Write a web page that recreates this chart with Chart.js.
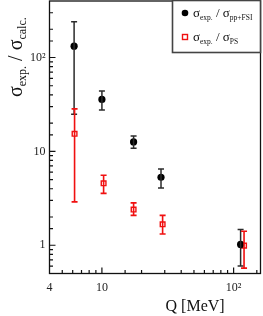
<!DOCTYPE html>
<html>
<head>
<meta charset="utf-8">
<script src="https://cdn.jsdelivr.net/npm/chart.js@4/dist/chart.umd.min.js"></script>
<style>
  html, body { margin: 0; padding: 0; background: #fff; }
  #wrap { width: 263px; height: 316px; }
</style>
</head>
<body>
<div id="wrap"><canvas id="chart" width="263" height="316"></canvas></div>
<script>
// sigma_exp / sigma_pp+FSI
const qFsi = [6.15, 10.0, 17.4, 28.1, 113];
const ratioFsi = [132, 35.8, 12.6, 5.3, 1.02];
const fsiHigh = [241, 43.9, 14.6, 6.5, 1.47];
const fsiLow = [24.8, 27.6, 10.8, 4.07, 0.6];

// sigma_exp / sigma_PS
const qPs = [6.2, 10.3, 17.4, 28.9, 120];
const ratioPs = [15.4, 4.57, 2.4, 1.67, 0.99];
const psHigh = [28.4, 5.56, 2.83, 2.08, 1.41];
const psLow = [2.9, 3.57, 2.08, 1.32, 0.57];

const xMajor = [4, 10, 100];
const yMajor = [1, 10, 100];

const SERIF = "'Liberation Serif', 'DejaVu Serif', serif";

function toPoints(xs, ys) {
  return xs.map((x, i) => ({ x: x, y: ys[i] }));
}

function powLabel(v) {
  if (v === 100) return '10\u00b2';
  return String(v);
}

// draws a sigma with subscript, returns new x
function sigmaText(ctx, x, y, sub, big, small) {
  ctx.font = big + 'px ' + SERIF;
  ctx.fillText('\u03c3', x, y);
  x += ctx.measureText('\u03c3').width;
  ctx.font = small + 'px ' + SERIF;
  ctx.fillText(sub, x, y + big * 0.22);
  return x + ctx.measureText(sub).width;
}

const errorBars = {
  id: 'errorBars',
  afterDatasetsDraw(chart) {
    const ctx = chart.ctx;
    const xs = chart.scales.x, ys = chart.scales.y;
    const sets = [
      { q: qFsi, hi: fsiHigh, lo: fsiLow, color: '#2b2b2b', w: 1.5 },
      { q: qPs, hi: psHigh, lo: psLow, color: '#f01010', w: 1.6 }
    ];
    ctx.save();
    sets.forEach(s => {
      ctx.strokeStyle = s.color;
      ctx.lineWidth = s.w;
      s.q.forEach((q, i) => {
        const px = xs.getPixelForValue(q);
        const top = ys.getPixelForValue(s.hi[i]);
        const bot = Math.min(ys.getPixelForValue(s.lo[i]), chart.chartArea.bottom);
        ctx.beginPath();
        ctx.moveTo(px, top); ctx.lineTo(px, bot);
        ctx.moveTo(px - 3, top); ctx.lineTo(px + 3, top);
        ctx.moveTo(px - 3, bot); ctx.lineTo(px + 3, bot);
        ctx.stroke();
      });
    });
    ctx.restore();
  }
};

const frame = {
  id: 'frame',
  afterDraw(chart) {
    const ctx = chart.ctx;
    const a = chart.chartArea;
    const xs = chart.scales.x, ys = chart.scales.y;
    ctx.save();
    ctx.strokeStyle = '#111';
    ctx.lineWidth = 1.3;
    ctx.strokeRect(a.left, a.top, a.right - a.left, a.bottom - a.top);

    // inward ticks
    ctx.lineWidth = 1.2;
    ctx.beginPath();
    xs.ticks.forEach(t => {
      if (t.value <= xs.min || t.value >= xs.max) return;
      const px = xs.getPixelForValue(t.value);
      const len = xMajor.includes(t.value) ? 6 : 3.5;
      ctx.moveTo(px, a.bottom); ctx.lineTo(px, a.bottom - len);
    });
    ys.ticks.forEach(t => {
      if (t.value <= ys.min || t.value >= ys.max) return;
      const py = ys.getPixelForValue(t.value);
      const len = yMajor.includes(t.value) ? 6 : 3.5;
      ctx.moveTo(a.left, py); ctx.lineTo(a.left + len, py);
    });
    ctx.stroke();

    // axis titles
    ctx.fillStyle = '#111';
    ctx.textBaseline = 'alphabetic';
    ctx.font = '16px ' + SERIF;
    ctx.textAlign = 'center';
    ctx.fillText('Q [MeV]', a.left + (a.right - a.left) * 0.69, 311);

    ctx.save();
    ctx.translate(22, 97);
    ctx.rotate(-Math.PI / 2);
    ctx.textAlign = 'left';
    let x = sigmaText(ctx, 0, 0, 'exp.', 20, 12);
    ctx.font = '20px ' + SERIF;
    ctx.fillText(' / ', x, 0);
    x += ctx.measureText(' / ').width;
    sigmaText(ctx, x, 0, 'calc.', 20, 12);
    ctx.restore();

    // legend
    const lx = 172.5, ly = 0.5, lw = a.right - 172.5, lh = 52;
    ctx.fillStyle = '#fff';
    ctx.fillRect(lx, ly, lw, lh);
    ctx.strokeStyle = '#444';
    ctx.lineWidth = 1.6;
    ctx.strokeRect(lx, ly, lw, lh);

    ctx.fillStyle = '#000';
    ctx.beginPath();
    ctx.arc(185, 13, 3.3, 0, Math.PI * 2);
    ctx.fill();
    ctx.strokeStyle = '#f01010';
    ctx.lineWidth = 1.4;
    ctx.strokeRect(182.5, 34.5, 5, 5);

    ctx.fillStyle = '#111';
    ctx.textAlign = 'left';
    let tx = sigmaText(ctx, 193, 17, 'exp.', 13, 7.5);
    ctx.font = '13px ' + SERIF;
    ctx.fillText(' / ', tx, 17);
    tx += ctx.measureText(' / ').width;
    sigmaText(ctx, tx, 17, 'pp+FSI', 13, 7.5);

    tx = sigmaText(ctx, 193, 41, 'exp.', 13, 7.5);
    ctx.font = '13px ' + SERIF;
    ctx.fillText(' / ', tx, 41);
    tx += ctx.measureText(' / ').width;
    sigmaText(ctx, tx, 41, 'PS', 13, 7.5);
    ctx.restore();
  }
};

new Chart(document.getElementById('chart'), {
  type: 'scatter',
  data: {
    datasets: [
      {
        label: 'fsi',
        data: toPoints(qFsi, ratioFsi),
        pointStyle: 'circle',
        pointRadius: 3.6,
        backgroundColor: '#000',
        borderColor: '#000',
        borderWidth: 0
      },
      {
        label: 'ps',
        data: toPoints(qPs, ratioPs),
        pointStyle: 'rect',
        pointRadius: 3.3,
        backgroundColor: '#fff',
        borderColor: '#f01010',
        borderWidth: 1.4
      }
    ]
  },
  options: {
    responsive: false,
    animation: false,
    devicePixelRatio: 1,
    layout: { autoPadding: false, padding: { top: 1, right: 2.5, left: 0, bottom: 0 } },
    plugins: { legend: { display: false }, tooltip: { enabled: false } },
    scales: {
      x: {
        type: 'logarithmic',
        min: 4,
        max: 160,
        grid: { display: false, drawTicks: false },
        border: { display: false },
        afterFit: s => { s.height = 42.5; s.paddingLeft = 0; s.paddingRight = 0; },
        ticks: {
          autoSkip: false,
          maxRotation: 0,
          padding: 7,
          color: '#222',
          font: { family: SERIF, size: 12 },
          callback: v => xMajor.includes(v) ? powLabel(v) : ''
        }
      },
      y: {
        type: 'logarithmic',
        min: 0.5,
        max: 400,
        grid: { display: false, drawTicks: false },
        border: { display: false },
        afterFit: s => { s.width = 49.5; s.paddingTop = 0; s.paddingBottom = 0; },
        ticks: {
          autoSkip: false,
          padding: 4,
          color: '#222',
          font: { family: SERIF, size: 12 },
          callback: v => yMajor.includes(v) ? powLabel(v) : ''
        }
      }
    }
  },
  plugins: [errorBars, frame]
});
</script>
</body>
</html>
